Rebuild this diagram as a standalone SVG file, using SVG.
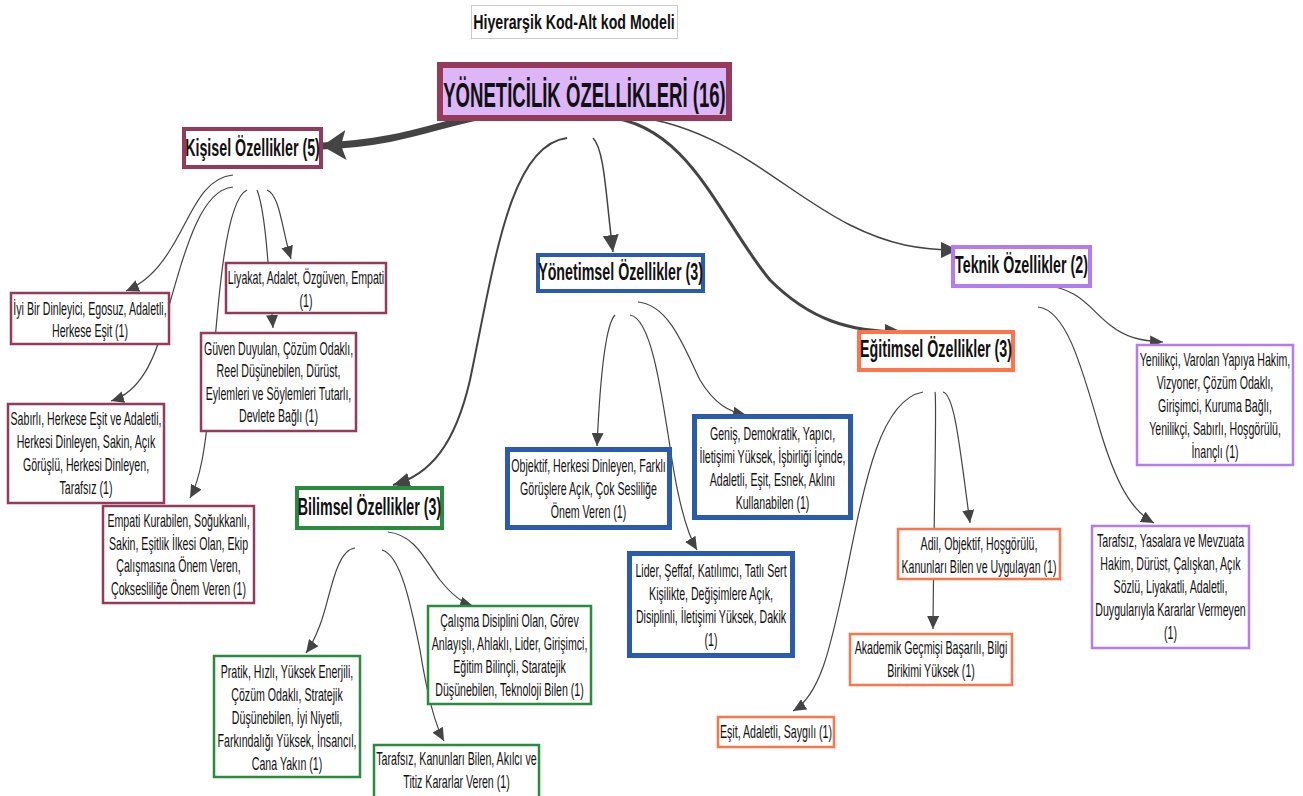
<svg xmlns="http://www.w3.org/2000/svg" width="1303" height="796" viewBox="0 0 1303 796">
<defs>
<marker id="ah" markerUnits="userSpaceOnUse" markerWidth="14" markerHeight="12" refX="13" refY="6" orient="auto"><path d="M0,0 L13,6 L0,12 Z" fill="#444"/></marker>
<marker id="ahm" markerUnits="userSpaceOnUse" markerWidth="18" markerHeight="16" refX="17" refY="8" orient="auto"><path d="M0,0 L17,8 L0,16 Z" fill="#444"/></marker>
<marker id="ahb" markerUnits="userSpaceOnUse" markerWidth="26" markerHeight="30" refX="24" refY="15" orient="auto"><path d="M0,0 L24,15 L0,30 L5,15 Z" fill="#444"/></marker>
</defs>
<style>
text{font-family:"Liberation Sans",Arial,sans-serif;fill:#111;text-anchor:middle}
.t{font-size:18px}
.c{font-size:23px;font-weight:bold}
.root{font-size:36px;font-weight:bold}
.title{font-size:21px;font-weight:bold}
.bx{fill:#fff}
.m1{stroke:#963a5c;stroke-width:2.5}
.m2{stroke:#963a5c;stroke-width:4}
.b1{stroke:#2b5bad;stroke-width:5}
.b2{stroke:#2b5bad;stroke-width:4}
.g1{stroke:#2a8a3e;stroke-width:2.5}
.g2{stroke:#2a8a3e;stroke-width:4}
.o1{stroke:#ff7448;stroke-width:2.5}
.o2{stroke:#ff7448;stroke-width:4}
.p1{stroke:#b57cf2;stroke-width:2.5}
.p2{stroke:#b57cf2;stroke-width:4}
.cn path{fill:none;stroke:#444}
.th{stroke-width:1.2;marker-end:url(#ah)}
</style>
<rect width="1303" height="796" fill="#fff"/>

<g id="title">
<rect x="471.5" y="5.5" width="206" height="33" fill="#fff" stroke="#ccc" stroke-width="1"/>
<text class="title" transform="translate(574 29) scale(0.675 1)">Hiyerarşik Kod-Alt kod Modeli</text>
</g>

<g id="connectors" class="cn">
<path d="M 513 113 C 450 115, 420 142, 322 146" stroke-width="7" marker-end="url(#ahb)"/>
<path d="M 567 138 C 510 145, 495 260, 470 380 C 455 445, 430 475, 393 485" stroke-width="2" marker-end="url(#ahm)"/>
<path d="M 593 138 C 605 150, 606 200, 613 252" stroke-width="1.5" marker-end="url(#ahm)"/>
<path d="M 607 117 C 690 125, 720 220, 770 280 C 810 320, 850 332, 902 332" stroke-width="3" marker-end="url(#ahm)"/>
<path d="M 617 115 C 720 120, 780 190, 850 225 C 890 245, 920 250, 958 250" stroke-width="1.5" marker-end="url(#ahm)"/>

<path class="th" d="M 233 175 C 200 178, 190 220, 170 250 C 155 275, 140 285, 126 291"/>
<path class="th" d="M 233 187 C 200 190, 185 250, 165 320 C 155 360, 140 392, 111 401"/>
<path class="th" d="M 247 190 C 225 200, 218 300, 210 400 C 205 450, 200 480, 190 498"/>
<path class="th" d="M 257 190 C 265 210, 268 260, 273 328"/>
<path class="th" d="M 267 190 C 280 195, 282 230, 291 259"/>

<path class="th" d="M 615 315 C 605 325, 600 380, 597 446"/>
<path class="th" d="M 630 315 C 650 318, 660 380, 672 460 C 680 510, 688 535, 697 550"/>
<path class="th" d="M 638 302 C 670 305, 685 350, 700 380 C 715 405, 730 412, 746 415"/>

<path class="th" d="M 355 548 C 335 550, 330 600, 320 625 C 315 638, 312 645, 306 653"/>
<path class="th" d="M 382 550 C 400 555, 410 600, 420 650 C 428 700, 435 725, 444 741"/>
<path class="th" d="M 388 532 C 415 535, 425 560, 440 580 C 452 595, 462 603, 473 606"/>

<path class="th" d="M 923 392 C 880 400, 865 480, 845 580 C 830 650, 820 695, 793 711"/>
<path class="th" d="M 935 392 C 937 400, 934 500, 933 629"/>
<path class="th" d="M 943 392 C 955 395, 960 450, 970 523"/>

<path class="th" d="M 1040 285 C 1080 287, 1090 310, 1110 325 C 1125 337, 1140 341, 1163 342"/>
<path class="th" d="M 1038 307 C 1065 310, 1080 360, 1100 430 C 1115 480, 1130 510, 1154 523"/>
</g>

<g id="root">
<rect x="440" y="65" width="289" height="53" fill="#dcb6f7" stroke="#963a5c" stroke-width="6"/>
<text class="root" transform="translate(584.5 107) scale(0.516 1)">YÖNETİCİLİK ÖZELLİKLERİ (16)</text>
</g>

<g id="kisisel">
<rect class="bx m2" x="184" y="129" width="137" height="38"/>
<text class="c" transform="translate(252.5 156) scale(0.62 1)">Kişisel Özellikler (5)</text>
</g>
<g id="yonetimsel">
<rect class="bx b2" x="538" y="255" width="165" height="36"/>
<text class="c" transform="translate(620.5 280) scale(0.62 1)">Yönetimsel Özellikler (3)</text>
</g>
<g id="bilimsel">
<rect class="bx g2" x="297" y="488" width="145" height="40"/>
<text class="c" transform="translate(369.5 515) scale(0.62 1)">Bilimsel Özellikler (3)</text>
</g>
<g id="egitimsel">
<rect class="bx o2" x="859" y="332" width="154" height="38"/>
<text class="c" transform="translate(936 357) scale(0.62 1)">Eğitimsel Özellikler (3)</text>
</g>
<g id="teknik">
<rect class="bx p2" x="953" y="247" width="137" height="39"/>
<text class="c" transform="translate(1021.5 273) scale(0.62 1)">Teknik Özellikler (2)</text>
</g>

<g id="k1">
<rect class="bx m1" x="11" y="293" width="158" height="51"/>
<text class="t" transform="translate(90 315) scale(0.59 1)"><tspan x="0">İyi Bir Dinleyici, Egosuz, Adaletli,</tspan><tspan x="0" dy="22.5">Herkese Eşit (1)</tspan></text>
</g>
<g id="k2">
<rect class="bx m1" x="226" y="263" width="160" height="50"/>
<text class="t" transform="translate(306 284) scale(0.59 1)"><tspan x="0">Liyakat, Adalet, Özgüven, Empati</tspan><tspan x="0" dy="23">(1)</tspan></text>
</g>
<g id="k3">
<rect class="bx m1" x="201" y="333" width="155" height="98"/>
<text class="t" transform="translate(278.5 355) scale(0.59 1)"><tspan x="0">Güven Duyulan, Çözüm Odaklı,</tspan><tspan x="0" dy="22.5">Reel Düşünebilen, Dürüst,</tspan><tspan x="0" dy="22.5">Eylemleri ve Söylemleri Tutarlı,</tspan><tspan x="0" dy="22.5">Devlete Bağlı (1)</tspan></text>
</g>
<g id="k4">
<rect class="bx m1" x="8" y="404" width="156" height="99"/>
<text class="t" transform="translate(86 425) scale(0.59 1)"><tspan x="0">Sabırlı, Herkese Eşit ve Adaletli,</tspan><tspan x="0" dy="23">Herkesi Dinleyen, Sakin, Açık</tspan><tspan x="0" dy="23">Görüşlü, Herkesi Dinleyen,</tspan><tspan x="0" dy="23">Tarafsız (1)</tspan></text>
</g>
<g id="k5">
<rect class="bx m1" x="103" y="506" width="151" height="97"/>
<text class="t" transform="translate(178.5 527) scale(0.59 1)"><tspan x="0">Empati Kurabilen, Soğukkanlı,</tspan><tspan x="0" dy="22.7">Sakin, Eşitlik İlkesi Olan, Ekip</tspan><tspan x="0" dy="22.7">Çalışmasına Önem Veren,</tspan><tspan x="0" dy="22.7">Çoksesliliğe Önem Veren (1)</tspan></text>
</g>

<g id="y1">
<rect class="bx b1" x="507.5" y="449.5" width="162" height="78"/>
<text class="t" transform="translate(588.5 472) scale(0.59 1)"><tspan x="0">Objektif, Herkesi Dinleyen, Farklı</tspan><tspan x="0" dy="23">Görüşlere Açık, Çok Sesliliğe</tspan><tspan x="0" dy="23">Önem Veren (1)</tspan></text>
</g>
<g id="y2">
<rect class="bx b1" x="694.5" y="416.5" width="156" height="101"/>
<text class="t" transform="translate(772.5 440) scale(0.59 1)"><tspan x="0">Geniş, Demokratik, Yapıcı,</tspan><tspan x="0" dy="23">İletişimi Yüksek, İşbirliği İçinde,</tspan><tspan x="0" dy="23">Adaletli, Eşit, Esnek, Aklını</tspan><tspan x="0" dy="23">Kullanabilen (1)</tspan></text>
</g>
<g id="y3">
<rect class="bx b1" x="629.5" y="553.5" width="163" height="102"/>
<text class="t" transform="translate(711 577) scale(0.59 1)"><tspan x="0">Lider, Şeffaf, Katılımcı, Tatlı Sert</tspan><tspan x="0" dy="23">Kişilikte, Değişimlere Açık,</tspan><tspan x="0" dy="23">Disiplinli, İletişimi Yüksek, Dakik</tspan><tspan x="0" dy="23">(1)</tspan></text>
</g>

<g id="b1">
<rect class="bx g1" x="214" y="656" width="146" height="121"/>
<text class="t" transform="translate(287 678) scale(0.59 1)"><tspan x="0">Pratik, Hızlı, Yüksek Enerjili,</tspan><tspan x="0" dy="23">Çözüm Odaklı, Stratejik</tspan><tspan x="0" dy="23">Düşünebilen, İyi Niyetli,</tspan><tspan x="0" dy="23">Farkındalığı Yüksek, İnsancıl,</tspan><tspan x="0" dy="23">Cana Yakın (1)</tspan></text>
</g>
<g id="b2">
<rect class="bx g1" x="428" y="606" width="163" height="98"/>
<text class="t" transform="translate(509.5 627) scale(0.59 1)"><tspan x="0">Çalışma Disiplini Olan, Görev</tspan><tspan x="0" dy="23">Anlayışlı, Ahlaklı, Lider, Girişimci,</tspan><tspan x="0" dy="23">Eğitim Bilinçli, Staratejik</tspan><tspan x="0" dy="23">Düşünebilen, Teknoloji Bilen (1)</tspan></text>
</g>
<g id="b3">
<rect class="bx g1" x="374" y="745" width="165" height="60"/>
<text class="t" transform="translate(456.5 765) scale(0.59 1)"><tspan x="0">Tarafsız, Kanunları Bilen, Akılcı ve</tspan><tspan x="0" dy="23">Titiz Kararlar Veren (1)</tspan></text>
</g>

<g id="e1">
<rect class="bx o1" x="898" y="529" width="162" height="50"/>
<text class="t" transform="translate(979 550) scale(0.59 1)"><tspan x="0">Adil, Objektif, Hoşgörülü,</tspan><tspan x="0" dy="23">Kanunları Bilen ve Uygulayan (1)</tspan></text>
</g>
<g id="e2">
<rect class="bx o1" x="850" y="634" width="162" height="51"/>
<text class="t" transform="translate(931 654) scale(0.59 1)"><tspan x="0">Akademik Geçmişi Başarılı, Bilgi</tspan><tspan x="0" dy="23">Birikimi Yüksek (1)</tspan></text>
</g>
<g id="e3">
<rect class="bx o1" x="718" y="717" width="116" height="30"/>
<text class="t" transform="translate(776 738) scale(0.59 1)">Eşit, Adaletli, Saygılı (1)</text>
</g>

<g id="t1">
<rect class="bx p1" x="1137" y="345" width="156" height="120"/>
<text class="t" transform="translate(1215 366) scale(0.59 1)"><tspan x="0">Yenilikçi, Varolan Yapıya Hakim,</tspan><tspan x="0" dy="23">Vizyoner, Çözüm Odaklı,</tspan><tspan x="0" dy="23">Girişimci, Kuruma Bağlı,</tspan><tspan x="0" dy="23">Yenilikçi, Sabırlı, Hoşgörülü,</tspan><tspan x="0" dy="23">İnançlı (1)</tspan></text>
</g>
<g id="t2">
<rect class="bx p1" x="1092" y="526" width="157" height="122"/>
<text class="t" transform="translate(1170.5 547) scale(0.59 1)"><tspan x="0">Tarafsız, Yasalara ve Mevzuata</tspan><tspan x="0" dy="23">Hakim, Dürüst, Çalışkan, Açık</tspan><tspan x="0" dy="23">Sözlü, Liyakatli, Adaletli,</tspan><tspan x="0" dy="23">Duygularıyla Kararlar Vermeyen</tspan><tspan x="0" dy="23">(1)</tspan></text>
</g>
</svg>
